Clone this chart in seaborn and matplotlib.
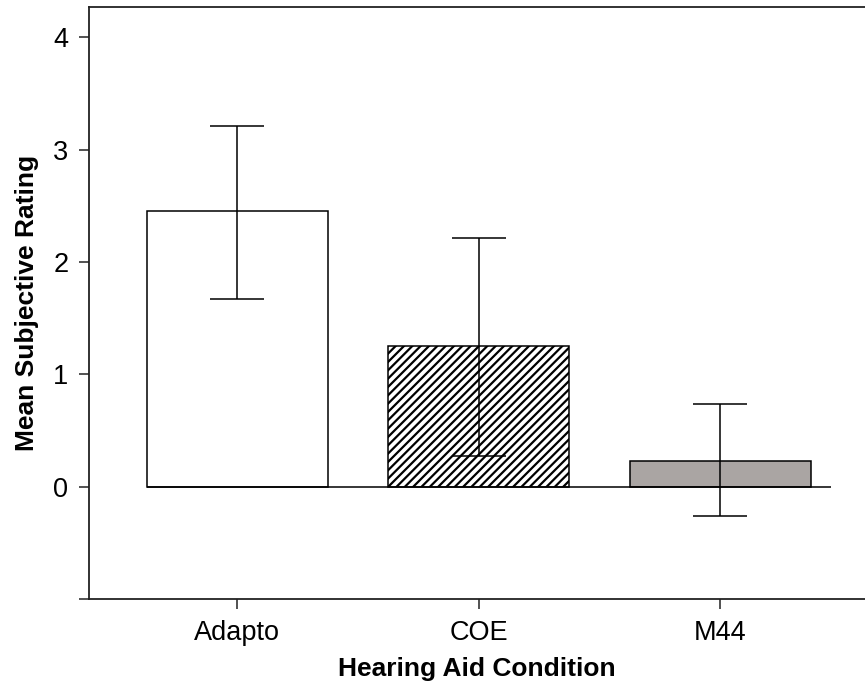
import numpy as np
import pandas as pd
import seaborn as sns
import matplotlib.pyplot as plt

# Data
conditions = ['Adapto', 'COE', 'M44']
means = [2.45, 1.25, 0.23]
err_low = [1.67, 0.27, -0.26]
err_high = [3.21, 2.21, 0.74]
fills = ['white', 'white', '#aba5a2']
hatches = ['', '////', '']

df = pd.DataFrame({'condition': conditions, 'mean': means})

sns.set_style('ticks')
plt.rcParams['font.family'] = ['Liberation Sans', 'DejaVu Sans']
plt.rcParams['hatch.linewidth'] = 1.6

fig = plt.figure(figsize=(8.65, 6.84), dpi=100)
ax = fig.add_axes([0.103, 0.124, 0.897, 0.866])

sns.barplot(data=df, x='condition', y='mean', hue='condition', palette=fills,
            width=0.75, edgecolor='black', linewidth=1.1, legend=False,
            errorbar=None, ax=ax)
for patch, h in zip(ax.patches, hatches):
    patch.set_hatch(h)

low = np.array(means) - np.array(err_low)
high = np.array(err_high) - np.array(means)
ax.errorbar(np.arange(len(conditions)), means, yerr=[low, high], fmt='none',
            ecolor='black', elinewidth=1.1, capsize=19.5, capthick=1.1, zorder=5)

ax.hlines(0, -0.375, 2.46, color='black', linewidth=1.1, zorder=4)

ax.set_xlim(-0.613, 2.60)
ax.set_ylim(-1, 4.27)
ax.set_yticks([-1, 0, 1, 2, 3, 4])
ax.set_yticklabels(['', '0', '1', '2', '3', '4'])

for side in ['left', 'bottom', 'top']:
    ax.spines[side].set_linewidth(1.3)
    ax.spines[side].set_color('#222222')
ax.spines['right'].set_visible(False)
ax.tick_params(axis='both', length=7, width=1.1, labelsize=19.5, pad=8, colors='#222222')
ax.tick_params(labelcolor='black')

ax.set_xlabel('Hearing Aid Condition', fontsize=19, fontweight='bold', labelpad=8, color='black')
ax.set_ylabel('Mean Subjective Rating', fontsize=19, fontweight='bold', labelpad=10, color='black')

fig.savefig('out.png', dpi=100)
